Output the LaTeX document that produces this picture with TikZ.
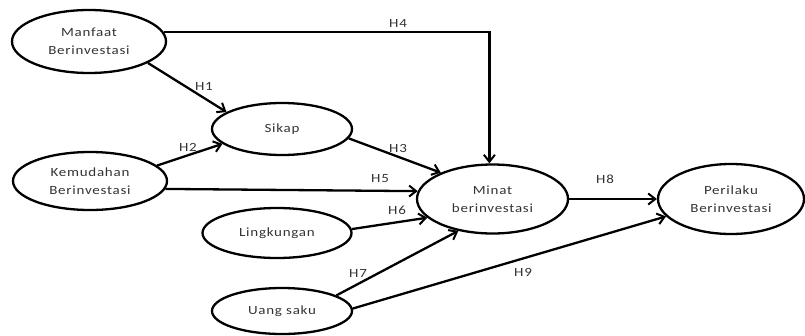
\documentclass[tikz,border=0pt]{standalone}
\usepackage{fontspec}
\setmainfont{Carlito}[FakeStretch=1.2,LetterSpace=6]
\usetikzlibrary{arrows.meta,shapes.geometric}
\begin{document}
\begin{tikzpicture}[x=1pt,y=-1pt,
  ell/.style={draw, ellipse, line width=2.3pt, inner sep=0pt, align=center,
    font=\fontsize{12.5}{18.5}\selectfont, text=black!80},
  arr/.style={line width=2.3pt, -{Straight Barb[length=7pt,width=11pt,line width=2pt]}},
  lbl/.style={font=\fontsize{12.5}{14}\selectfont, text=black!80, inner sep=0pt}]
\useasboundingbox (0,0) rectangle (805,335);
\node[ell, minimum width=154pt, minimum height=63pt] (manfaat) at (89,41.5) {Manfaat\\Berinvestasi};
\node[ell, minimum width=140pt, minimum height=52pt] (sikap) at (282,129) {Sikap};
\node[ell, minimum width=154pt, minimum height=58pt] (kemudahan) at (90,181) {Kemudahan\\Berinvestasi};
\node[ell, minimum width=151pt, minimum height=69pt] (minat) at (492.5,199) {Minat\\berinvestasi};
\node[ell, minimum width=146pt, minimum height=70pt] (perilaku) at (731,199) {Perilaku\\Berinvestasi};
\node[ell, minimum width=149pt, minimum height=50pt] (lingkungan) at (277,233) {Lingkungan};
\node[ell, minimum width=140pt, minimum height=46pt] (uang) at (282,311) {Uang saku};

\draw[arr] (manfaat.7) -| (minat.95);
\draw[arr] (manfaat.-20) -- (sikap.163);
\draw[arr] (kemudahan.13) -- (sikap.194);
\draw[arr] (sikap.-8) -- (minat.153);
\draw[arr] (kemudahan.-6) -- (minat.174);
\draw[arr] (lingkungan.3) -- (minat.196);
\draw[arr] (uang.16) -- (minat.223);
\draw[arr] (uang.2) -- (perilaku.195);
\draw[arr] (minat.east) -- (perilaku.west);

\node[lbl] (h4) at (398,23) {H4};
\node[lbl] (h1) at (204,86) {H1};
\node[lbl] (h2) at (188,147) {H2};
\node[lbl] (h3) at (398,148) {H3};
\node[lbl] (h5) at (380,179) {H5};
\node[lbl] (h6) at (397,210) {H6};
\node[lbl] (h7) at (358,273) {H7};
\node[lbl] (h8) at (605,179) {H8};
\node[lbl] (h9) at (523,272) {H9};
\end{tikzpicture}
\end{document}
